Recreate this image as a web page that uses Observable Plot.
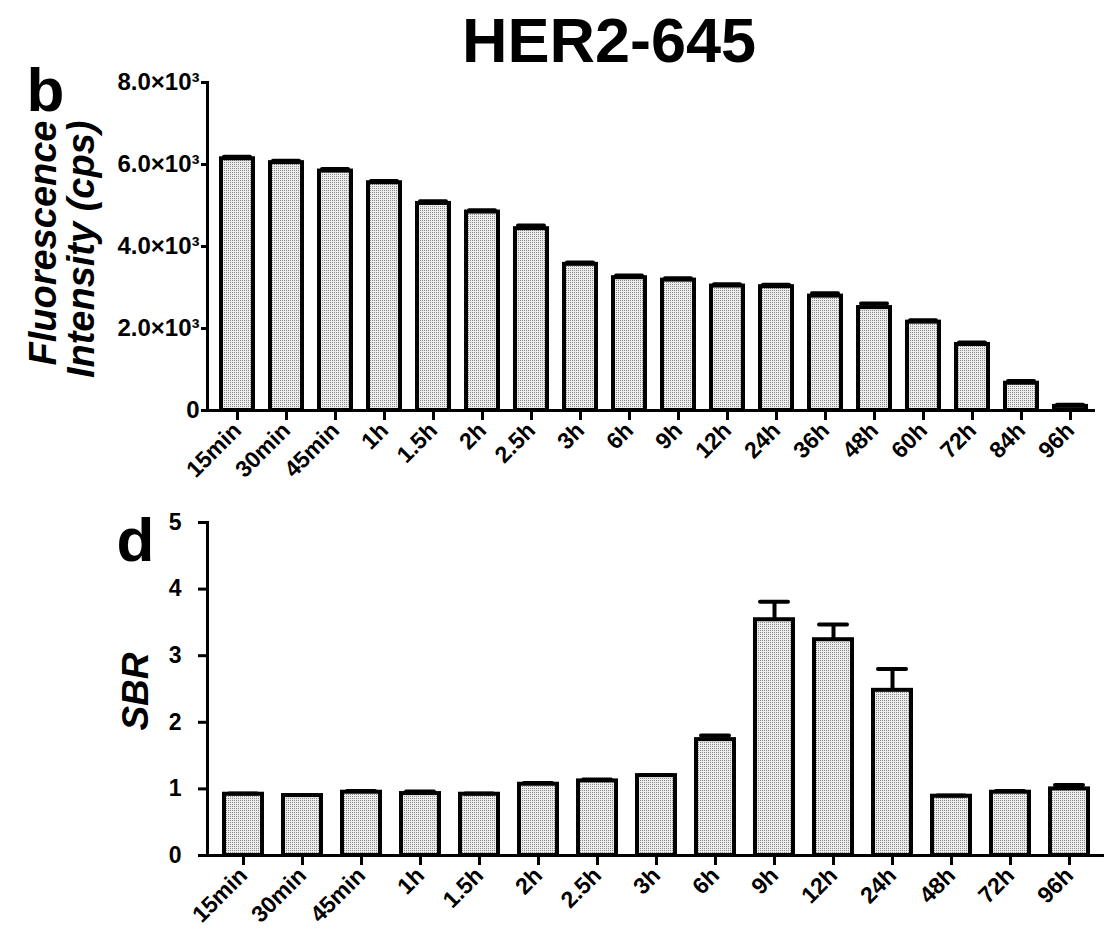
<!DOCTYPE html>
<html><head><meta charset="utf-8">
<script src="https://cdn.jsdelivr.net/npm/d3@7"></script>
<script src="https://cdn.jsdelivr.net/npm/@observablehq/plot@0.6"></script>
<style>
body{margin:0;background:#fff;width:1109px;height:940px;position:relative;overflow:hidden;font-family:"Liberation Sans",Arial,sans-serif;}
#title{position:absolute;left:0;top:9px;width:1218px;text-align:center;font-size:63px;font-weight:bold;line-height:63px;color:#000;}
#p1{position:absolute;left:0;top:0;}
#p2{position:absolute;left:0;top:480px;}
#p1 g[aria-label="y-axis tick label"]{font-size:24px;font-weight:bold;}
#p1 g[aria-label="x-axis tick label"]{font-size:23px;font-weight:bold;}
#p2 g[aria-label="y-axis tick label"]{font-size:23px;font-weight:bold;}
#p2 g[aria-label="x-axis tick label"]{font-size:23px;font-weight:bold;}
</style></head><body>
<svg width="0" height="0" style="position:absolute">
<defs><pattern id="dots" width="2" height="2" patternUnits="userSpaceOnUse"><rect width="2" height="2" fill="#ececec"/><rect width="1" height="1" fill="#8a8a8a"/></pattern></defs></svg>
<div id="p1"></div><div id="p2"></div><div id="title">HER2-645</div>
<script>
const FONT = "Liberation Sans, Arial, Helvetica, sans-serif";

// Panel b: fluorescence intensity
const timesTop = ["15min","30min","45min","1h","1.5h","2h","2.5h","3h","6h","9h","12h","24h","36h","48h","60h","72h","84h","96h"];
const fluorMean = [6140,6045,5840,5555,5050,4840,4435,3565,3240,3180,3035,3020,2790,2510,2155,1610,665,100];
const fluorSem  = [50,45,50,40,55,45,80,45,50,45,45,45,70,100,45,50,55,40];
const yTicksTop = [0,2000,4000,6000,8000];
const yTickLabelsTop = ["0","2.0×10³","4.0×10³","6.0×10³","8.0×10³"];

// Panel d: SBR
const timesBottom = ["15min","30min","45min","1h","1.5h","2h","2.5h","3h","6h","9h","12h","24h","48h","72h","96h"];
const sbrMean = [0.92,0.90,0.95,0.93,0.92,1.07,1.12,1.20,1.74,3.54,3.24,2.48,0.89,0.95,1.00];
const sbrSem  = [0.01,0.01,0.02,0.03,0.01,0.02,0.02,0.01,0.06,0.27,0.23,0.32,0.01,0.02,0.06];
const yTicksBottom = [0,1,2,3,4,5];

const topData = timesTop.map((t,i)=>({t, v: fluorMean[i], e: fluorSem[i]}));
const botData = timesBottom.map((t,i)=>({t, v: sbrMean[i], e: sbrSem[i]}));

const style = {fontFamily: FONT, fontWeight: "bold", color: "#000", background: "transparent", overflow: "visible"};

const p1 = Plot.plot({
  width: 1109, height: 480,
  marginTop: 82, marginBottom: 70, marginLeft: 207, marginRight: 14,
  style,
  x: {domain: timesTop, range: [211.5, 1095.5], paddingInner: 0.35, paddingOuter: 0.175, label: null},
  y: {domain: [0, 8000], label: null},
  marks: [
    Plot.barY(topData, {x: "t", y: "v", fill: "url(#dots)", stroke: "#000", strokeWidth: 4}),
    Plot.ruleX(topData, {x: "t", y1: "v", y2: d => d.v + d.e, stroke: "#000", strokeWidth: 4}),
    Plot.tickY(topData, {x: "t", y: d => d.v + d.e, stroke: "#000", strokeWidth: 4, inset: 3, strokeLinecap: "round"}),
    Plot.ruleY([0], {stroke: "#000", strokeWidth: 3}),
    Plot.frame({anchor: "left", stroke: "#000", strokeWidth: 3}),
    Plot.axisY({ticks: yTicksTop, tickFormat: d => yTickLabelsTop[yTicksTop.indexOf(d)], tickSize: 6, tickPadding: 2, strokeWidth: 3, label: null}),
    Plot.axisX({tickSize: 10, tickPadding: 6, tickRotate: -45, strokeWidth: 3, label: null}),
    Plot.text(["b"], {text: d => d, frameAnchor: "top-left", dx: -181, dy: 28, fontSize: 62, fontWeight: "bold", textAnchor: "start", lineAnchor: "bottom", fill: "#000"}),
    Plot.text(["Fluorescence\nIntensity (cps)"], {text: d => d, frameAnchor: "top-left", dx: -114, dy: 38, rotate: -90, fontSize: 38, fontWeight: "bold", fontStyle: "italic", textAnchor: "end", lineAnchor: "bottom", lineHeight: 1, fill: "#000"})
  ]
});
document.getElementById("p1").appendChild(p1);

const p2 = Plot.plot({
  width: 1109, height: 460,
  marginTop: 42, marginBottom: 85, marginLeft: 207, marginRight: 5,
  style,
  x: {domain: timesBottom, range: [208.2, 1103.2], paddingInner: 0.36, paddingOuter: 0.18, label: null},
  y: {domain: [0, 5], label: null},
  marks: [
    Plot.barY(botData, {x: "t", y: "v", fill: "url(#dots)", stroke: "#000", strokeWidth: 4}),
    Plot.ruleX(botData, {x: "t", y1: "v", y2: d => d.v + d.e, stroke: "#000", strokeWidth: 4}),
    Plot.tickY(botData, {x: "t", y: d => d.v + d.e, stroke: "#000", strokeWidth: 4, inset: 5, strokeLinecap: "round"}),
    Plot.ruleY([0], {stroke: "#000", strokeWidth: 3}),
    Plot.frame({anchor: "left", stroke: "#000", strokeWidth: 3}),
    Plot.axisY({ticks: yTicksBottom, tickFormat: d => String(d), tickSize: 9, tickPadding: 17, strokeWidth: 3, label: null}),
    Plot.axisX({tickSize: 10, tickPadding: 6, tickRotate: -45, strokeWidth: 3, label: null}),
    Plot.text(["d"], {text: d => d, frameAnchor: "top-left", dx: -91, dy: 38, fontSize: 62, fontWeight: "bold", textAnchor: "start", lineAnchor: "bottom", fill: "#000"}),
    Plot.text(["SBR"], {text: d => d, frameAnchor: "top-left", dx: -60, dy: 169, rotate: -90, fontSize: 37, fontWeight: "bold", fontStyle: "italic", textAnchor: "middle", lineAnchor: "bottom", fill: "#000"})
  ]
});
document.getElementById("p2").appendChild(p2);
</script>
</body></html>
